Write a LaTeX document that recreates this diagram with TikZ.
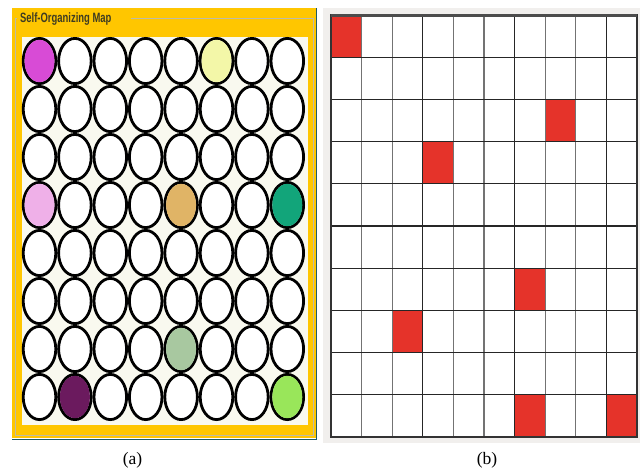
\documentclass[tikz,border=0pt]{standalone}
\usepackage{fontspec}
\setmainfont{Liberation Serif}
\newfontfamily\guifont{Liberation Sans}
\definecolor{somyellow}{HTML}{FFC600}
\definecolor{somcream}{HTML}{F9F9EF}
\definecolor{somteal}{HTML}{1F5A66}
\definecolor{somgroup}{HTML}{BDBBA8}
\definecolor{somtitle}{HTML}{3E3C22}
\definecolor{gridbg}{HTML}{F1EFED}
\definecolor{cellred}{HTML}{E5332A}
\definecolor{cMagenta}{HTML}{D84BD6}
\definecolor{cPaleYellow}{HTML}{F3F7A8}
\definecolor{cPink}{HTML}{EFB0E8}
\definecolor{cTan}{HTML}{E0B466}
\definecolor{cTeal}{HTML}{12A57A}
\definecolor{cSage}{HTML}{A8C8A0}
\definecolor{cPurple}{HTML}{6B1A5E}
\definecolor{cLime}{HTML}{99E65A}
\tikzset{
  neuron/.style={draw=black, line width=2.8pt, fill=white},
  redcell/.style={fill=cellred},
  gridline/.style={draw=black!85, line width=1.3pt},
  gridlinelight/.style={draw=black!55, line width=1.1pt},
  caption/.style={font=\fontsize{17.5}{20}\selectfont, inner sep=0pt}
}
\begin{document}
\begin{tikzpicture}[x=1pt,y=-1pt]
\useasboundingbox (0,0) rectangle (640,471);
\fill[white] (0,0) rectangle (640,471);
% ---------- panel (a)
\fill[somyellow] (12,8) rectangle (316,438);
\draw[somteal, line width=1.5pt] (12,439.5) -- (317,439.5);
\draw[somteal, line width=1.2pt] (316.8,8) -- (316.8,440);
\draw[somgroup, line width=1pt] (131,18.5) -- (313,18.5) -- (313,435) -- (15,435) -- (15,18.5) -- (17,18.5);
\node[anchor=west, inner sep=0pt, text=somtitle, xscale=0.7, font=\guifont\bfseries\fontsize{13.5}{15}\selectfont] (title) at (20,19.5) {Self-Organizing Map};
\fill[somcream] (22,37) rectangle (308,425);
\foreach \r in {1,...,8}{
  \foreach \c in {1,...,8}{
    \pgfmathsetmacro{\cx}{39.5+35.4*(\c-1)}
    \pgfmathsetmacro{\cy}{61+48*(\r-1)}
    \draw[neuron] (\cx,\cy) ellipse [x radius=16.3pt, y radius=22.6pt];
  }
}
\fill[cMagenta]    (39.5,61)  ellipse [x radius=15pt, y radius=21.2pt];
\fill[cPaleYellow] (216.5,61) ellipse [x radius=15pt, y radius=21.2pt];
\fill[cPink]       (39.5,205) ellipse [x radius=15pt, y radius=21.2pt];
\fill[cTan]        (181.1,205) ellipse [x radius=15pt, y radius=21.2pt];
\fill[cTeal]       (287.3,205) ellipse [x radius=15pt, y radius=21.2pt];
\fill[cSage]       (181.1,349) ellipse [x radius=15pt, y radius=21.2pt];
\fill[cPurple]     (74.9,397) ellipse [x radius=15pt, y radius=21.2pt];
\fill[cLime]       (287.3,397) ellipse [x radius=15pt, y radius=21.2pt];
\node[caption] (capa) at (132.5,460.5) {(a)};
% ---------- panel (b)
\fill[gridbg] (323,8) rectangle (640,443);
\fill[white] (331,15) rectangle (637,437);
\foreach \r/\c in {1/1, 3/8, 4/4, 7/7, 8/3, 10/7, 10/10}{
  \fill[redcell] ({331+30.6*(\c-1)},{15+42.2*(\r-1)}) rectangle ++(30.6,42.2);
}
\foreach \c in {1,2,4,5,7,8}{
  \draw[gridlinelight] ({331+30.6*\c},15) -- ({331+30.6*\c},437);
}
\foreach \c in {3,6,9}{
  \draw[gridline] ({331+30.6*\c},15) -- ({331+30.6*\c},437);
}
\foreach \r in {1,...,9}{
  \draw[gridline] (331,{15+42.2*\r}) -- (637,{15+42.2*\r});
}
\draw[black!80, line width=1.6pt] (331,15) rectangle (637,437);
\draw[black!70, line width=2.2pt] (331,15.5) -- (637,15.5);
\node[caption] (capb) at (487,460.5) {(b)};
\end{tikzpicture}
\end{document}
